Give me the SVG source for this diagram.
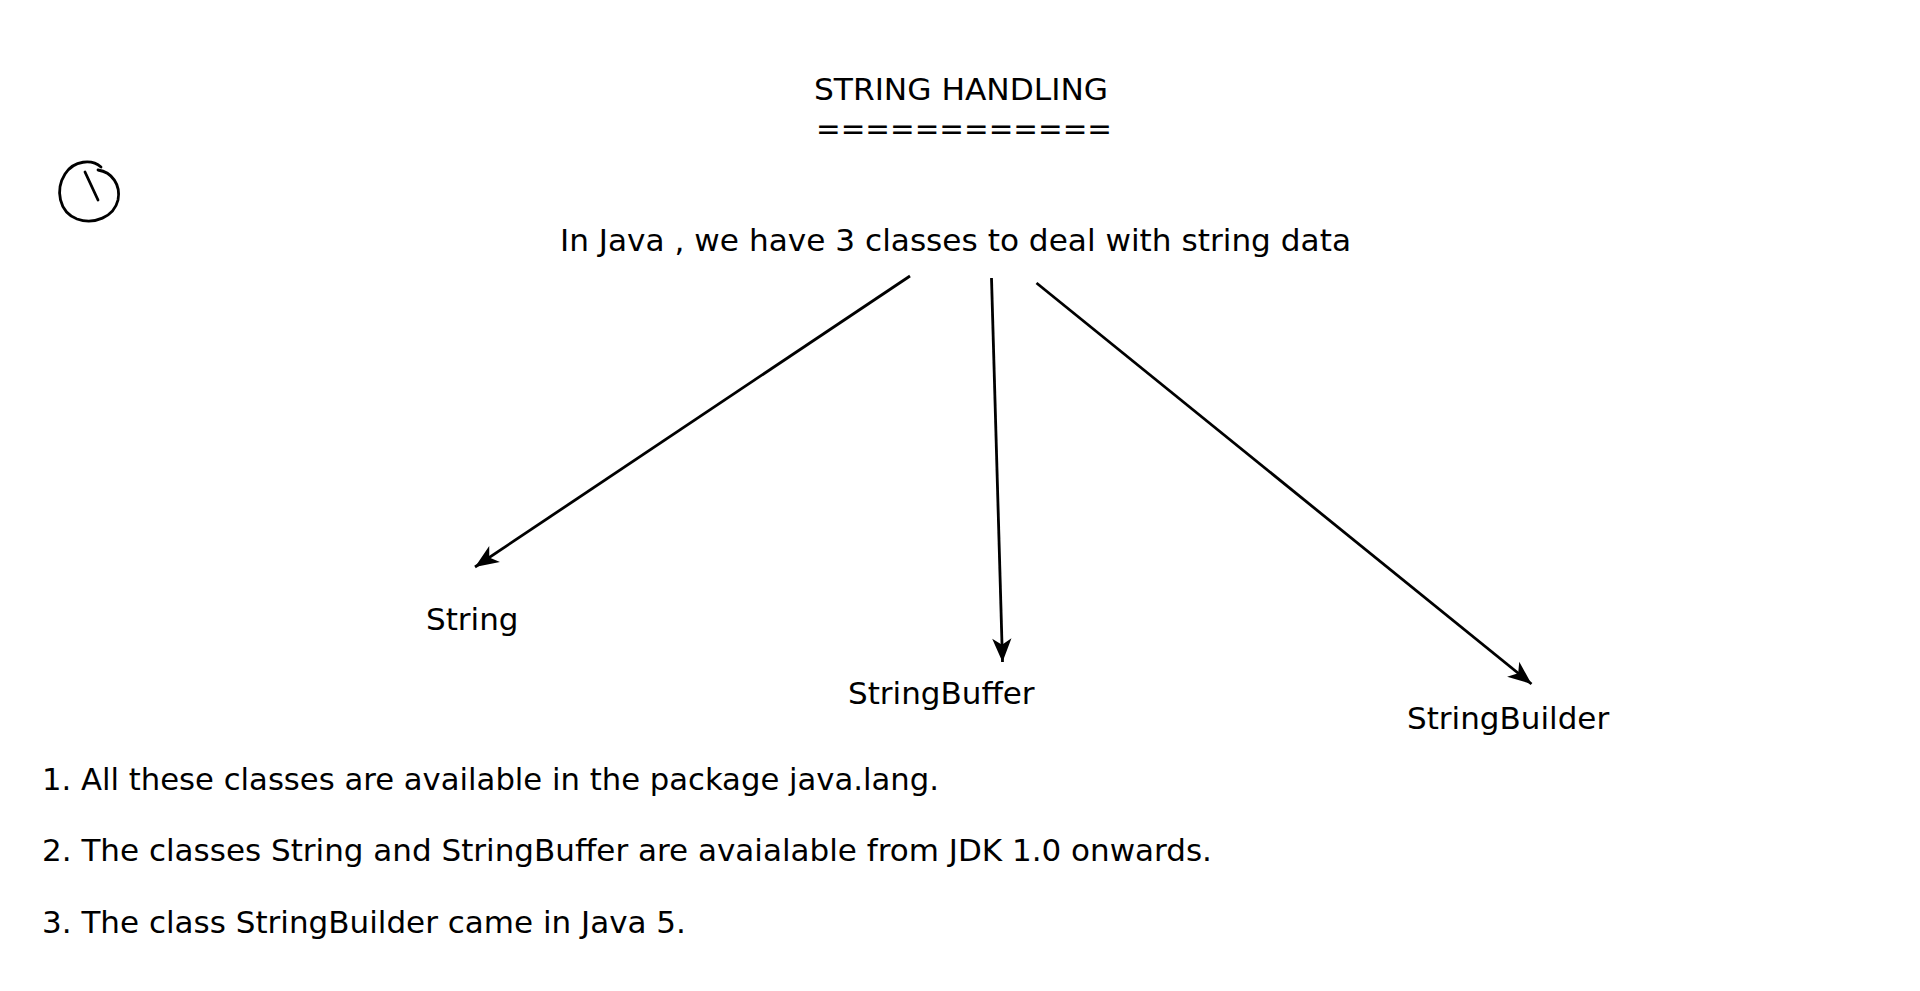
<svg xmlns="http://www.w3.org/2000/svg" width="1920" height="991" viewBox="0 0 1920 991">
<style>
text{font-family:"DejaVu Sans","Verdana",sans-serif;font-size:31px;fill:#000}
.ln{stroke:#000;stroke-width:2.8;fill:none;marker-end:url(#ah)}
.ink{stroke:#000;stroke-width:2.8;fill:none;stroke-linecap:round;stroke-linejoin:round}
</style>
<defs>
<marker id="ah" markerUnits="userSpaceOnUse" markerWidth="30" markerHeight="30" viewBox="-24 -12 28 24" refX="0" refY="0" orient="auto">
<path d="M0,0 L-22,-9 L-16,0 L-22,9 Z" fill="#000"/>
</marker>
</defs>
<rect width="1920" height="991" fill="#fff"/>
<g id="title">
<text x="814" y="100" textLength="294" lengthAdjust="spacingAndGlyphs">STRING HANDLING</text>
<text x="816" y="139" textLength="296" lengthAdjust="spacingAndGlyphs">============</text>
</g>
<g id="mark">
<path class="ink" d="M101,167 C92,159 74,160 65,174 C55,190 59,212 77,219 C94,225 114,217 118,200 C121,185 112,172 98,170"/>
<path class="ink" d="M85,172 L98,200"/>
</g>
<g id="root">
<text x="560" y="251" textLength="791" lengthAdjust="spacingAndGlyphs">In Java , we have 3 classes to deal with string data</text>
</g>
<g id="connectors">
<line class="ln" x1="910" y1="276" x2="475" y2="567"/>
<line class="ln" x1="991.5" y1="278" x2="1002.5" y2="662"/>
<line class="ln" x1="1036.5" y1="283" x2="1531.5" y2="684"/>
</g>
<g id="string"><text x="426" y="630">String</text></g>
<g id="stringbuffer"><text x="848" y="704">StringBuffer</text></g>
<g id="stringbuilder"><text x="1407" y="729">StringBuilder</text></g>
<g id="notes">
<text x="42" y="790" textLength="897" lengthAdjust="spacingAndGlyphs">1. All these classes are available in the package java.lang.</text>
<text x="42" y="861">2. The classes String and StringBuffer are avaialable from JDK 1.0 onwards.</text>
<text x="42" y="933">3. The class StringBuilder came in Java 5.</text>
</g>
</svg>
